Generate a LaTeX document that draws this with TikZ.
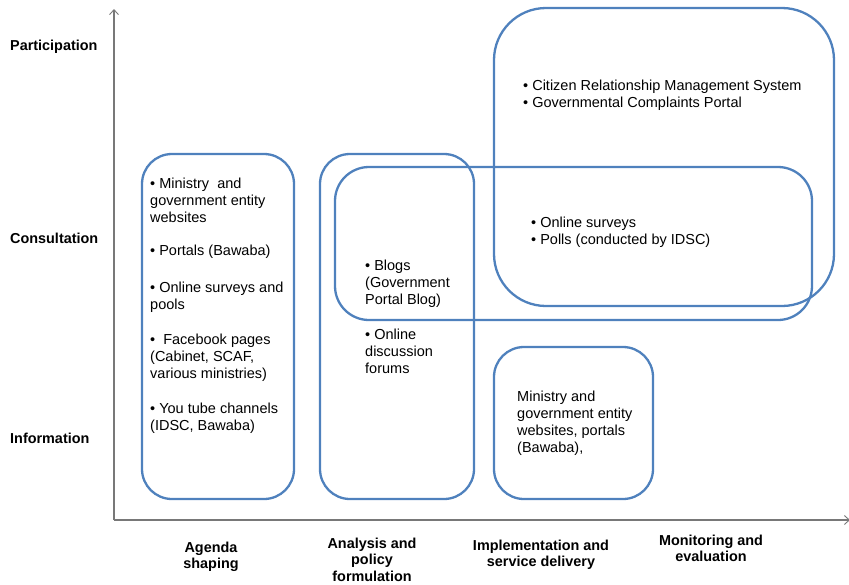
\documentclass[tikz,border=0pt]{standalone}
\usepackage{fontspec}
\setmainfont{Liberation Sans}
\usetikzlibrary{arrows.meta}
\definecolor{boxblue}{RGB}{79,129,189}
\definecolor{axisgray}{RGB}{120,120,120}
\newcommand{\fl}{\rule{0pt}{11pt}}
\begin{document}
\begin{tikzpicture}[x=1pt,y=-1pt,
  blobbox/.style={draw=boxblue, line width=2.3pt, rounded corners=#1, inner sep=0pt, outer sep=0pt},
  blobbox/.default=30pt,
  bodytext/.style={font=\fontsize{14.5}{17}\selectfont, align=left, inner sep=0pt, anchor=north west},
  axlabel/.style={font=\bfseries\fontsize{14.4}{16.5}\selectfont, inner sep=0pt, anchor=base west},
  phaselabel/.style={font=\bfseries\fontsize{14.4}{16.5}\selectfont, align=center, inner sep=0pt, anchor=north},
  axisline/.style={draw=axisgray, line width=1.4pt, -{Straight Barb[length=5pt,width=9pt,line width=0.9pt]}}
]
\useasboundingbox (0,0) rectangle (849,584);

% axes
\coordinate (origin) at (114,520);
\coordinate (ytip) at (114,9);
\coordinate (xtip) at (850,520);
\draw[axisline] (origin) -- (ytip);
\draw[axisline] (origin) -- (xtip);

% boxes
\node[blobbox=30pt, minimum width=152pt, minimum height=345pt, anchor=north west] (boxA) at (142,154) {};
\node[blobbox=30pt, minimum width=154pt, minimum height=345pt, anchor=north west] (boxB) at (320,154) {};
\node[blobbox=34pt, minimum width=477pt, minimum height=153pt, anchor=north west] (boxC) at (335,167) {};
\node[blobbox=52pt, minimum width=340pt, minimum height=298pt, anchor=north west] (boxD) at (494,8) {};
\node[blobbox=30pt, minimum width=159pt, minimum height=152pt, anchor=north west] (boxE) at (494,347) {};

% box A text
\node[bodytext] (a1) at (150,177) {\fl• Ministry \ and\\government entity\\websites};
\node[bodytext] (a2) at (150,244) {\fl• Portals (Bawaba)};
\node[bodytext] (a3) at (150,281) {\fl• Online surveys and\\pools};
\node[bodytext] (a4) at (150,333) {\fl• \ Facebook pages\\(Cabinet, SCAF,\\various ministries)};
\node[bodytext] (a5) at (150,402) {\fl• You tube channels\\(IDSC, Bawaba)};

% box B text
\node[bodytext] (b1) at (365,259) {\fl• Blogs\\(Government\\Portal Blog)};
\node[bodytext] (b2) at (365,328) {\fl• Online\\discussion\\forums};

% box D text
\node[bodytext] (d1) at (523,79) {\fl• Citizen Relationship Management System\\• Governmental Complaints Portal};

% box C text
\node[bodytext] (c1) at (531,216) {\fl• Online surveys\\• Polls (conducted by IDSC)};

% box E text
\node[bodytext] (e1) at (517,390) {\fl Ministry and\\government entity\\websites, portals\\(Bawaba),};

% axis labels
\node[axlabel] (lp) at (10,50) {Participation};
\node[axlabel] (lc) at (10,243) {Consultation};
\node[axlabel] (li) at (10,443) {Information};

\node[phaselabel] (pa) at (211,541) {\fl Agenda\\shaping};
\node[phaselabel] (pb) at (372,537) {\fl Analysis and\\policy\\formulation};
\node[phaselabel] (pc) at (541,539) {\fl Implementation and\\service delivery};
\node[phaselabel] (pd) at (711,534) {\fl Monitoring and\\evaluation};
\end{tikzpicture}
\end{document}
